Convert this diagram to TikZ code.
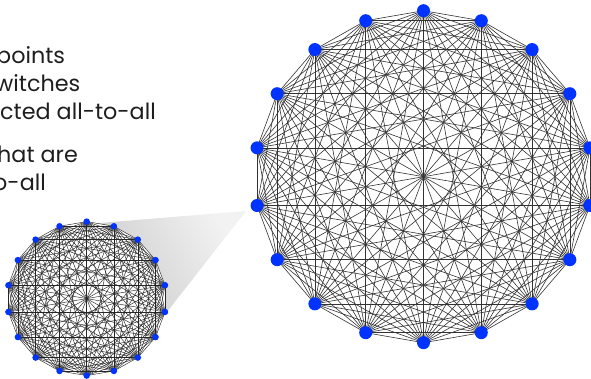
\documentclass[tikz,border=0pt]{standalone}
\usepackage{fontspec}
\setmainfont{Poppins}
\definecolor{dotblue}{RGB}{0,51,255}
\definecolor{txt}{RGB}{30,30,30}
\tikzset{
  bigdot/.style={circle,fill=dotblue,inner sep=0pt,minimum size=13pt},
  smalldot/.style={circle,fill=dotblue,inner sep=0pt,minimum size=6.5pt},
  bigedge/.style={black!80,line width=0.6pt},
  smalledge/.style={black!85,line width=0.45pt},
  label/.style={anchor=base west,inner sep=0pt,text=txt,font=\fontsize{22.3}{26}\selectfont},
}
\begin{document}
\begin{tikzpicture}[x=1pt,y=-1pt]
\useasboundingbox (0,0) rectangle (591,379);
\clip (0,0) rectangle (591,379);
% text
\node[label] (t1) at (-4,64) {points};
\node[label] (t2) at (-5,92) {witches};
\node[label] (t3) at (0,120) {cted all-to-all};
\node[label] (t4) at (-3,163) {hat are};
\node[label] (t5) at (-7,191) {o-all};
% wedge
\coordinate (tip) at (246,211);
\coordinate (SC) at (86.7,298.6);
\shade[top color=gray!10,bottom color=gray!45,shading angle=-61]
  (tip) -- (80,224.6) -- (SC) -- (145,340) -- cycle;
% coordinates
\foreach \k in {0,...,17}{
  \coordinate (L\k) at ({423.5+169*cos(90+20*\k)},{176.7-166*sin(90+20*\k)});
  \coordinate (S\k) at ({86.7+79.5*cos(90+20*\k)},{298.6-77*sin(90+20*\k)});
}
\fill[white] (S0) \foreach \k in {1,...,17}{ -- (S\k)} -- cycle;
% edges
\foreach \i in {0,...,17}{
  \foreach \j in {0,...,17}{
    \ifnum\j>\i
      \draw[bigedge] (L\i) -- (L\j);
      \draw[smalledge] (S\i) -- (S\j);
    \fi
  }
}
% dots
\foreach \k in {0,...,17}{
  \node[bigdot] (dL\k) at (L\k) {};
  \node[smalldot] (dS\k) at (S\k) {};
}
\end{tikzpicture}
\end{document}
